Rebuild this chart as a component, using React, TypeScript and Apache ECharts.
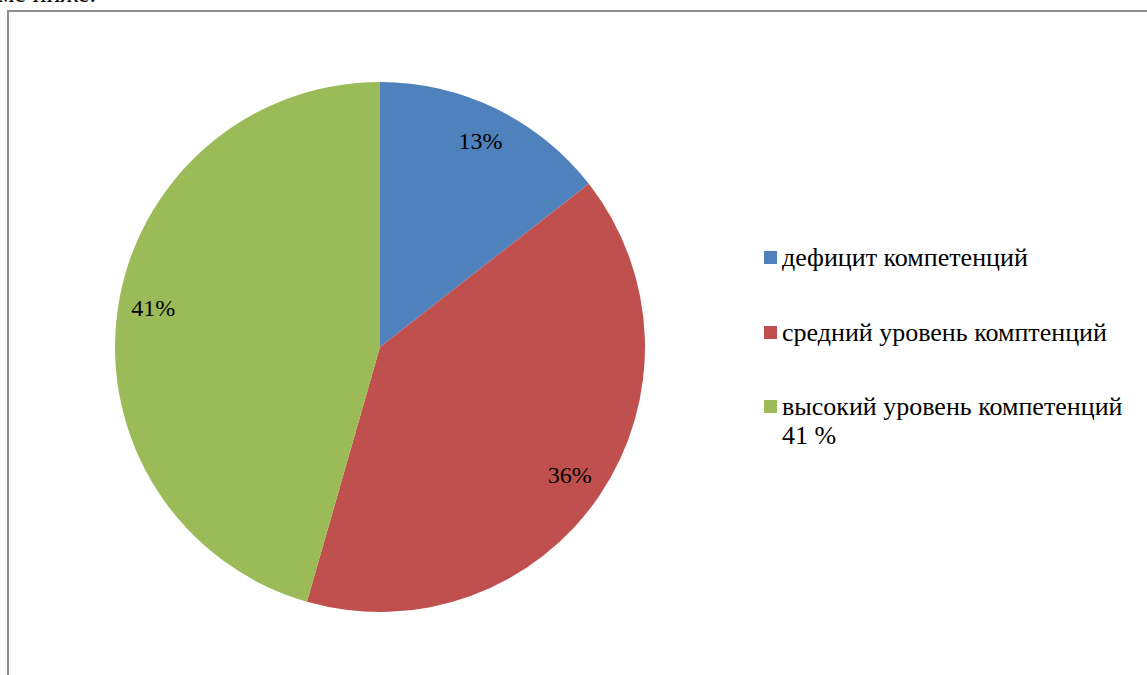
import React, { useEffect, useRef } from "react";
import * as echarts from "echarts";

const categories = ["дефицит компетенций", "средний уровень комптенций", "высокий уровень компетенций\n41 %"];
const values = [13, 36, 41];
const colors = ["#4F81BD", "#C0504D", "#9BBB59"];

const FONT = "Liberation Serif";

export default function App() {
  const ref = useRef<HTMLDivElement>(null);
  useEffect(() => {
    if (!ref.current) return;
    const chart = echarts.init(ref.current, undefined, { renderer: "svg" });
    const data = categories.map((name, i) => ({ name, value: values[i], itemStyle: { color: colors[i] } }));
    const legendText = { fontFamily: FONT, fontSize: 26, color: "#000", lineHeight: 29 };
    chart.setOption({
      animation: false,
      backgroundColor: "#ffffff",
      legend: [
        {
          orient: "vertical",
          left: 759,
          top: 238,
          itemWidth: 13,
          itemHeight: 13,
          itemGap: 46,
          icon: "rect",
          selectedMode: false,
          textStyle: legendText,
          data: [categories[0], categories[1]],
        },
        {
          orient: "vertical",
          left: 759,
          top: 358,
          itemWidth: 13,
          itemHeight: 13,
          icon: "rect",
          selectedMode: false,
          textStyle: legendText,
          formatter: (name: string) => "\n" + name,
          data: [categories[2]],
        },
      ],
      graphic: [
        {
          type: "text",
          x: -2,
          y: -20,
          style: { text: "ме ниже.", fontSize: 26, fontFamily: FONT, fill: "#000" },
        },
        {
          type: "polyline",
          shape: { points: [[8, 675], [8, 11], [1147, 11]] },
          style: { stroke: "#8c8c8c", lineWidth: 2, fill: "none" },
        },
      ],
      series: [
        {
          type: "pie",
          center: [380, 347],
          radius: [0, 265],
          startAngle: 90,
          clockwise: true,
          silent: true,
          label: { show: false },
          labelLine: { show: false },
          itemStyle: { borderWidth: 0 },
          data,
        },
        {
          type: "pie",
          center: [380, 347],
          radius: [187, 265],
          startAngle: 90,
          clockwise: true,
          silent: true,
          itemStyle: { color: "transparent", borderWidth: 0 },
          label: {
            show: true,
            position: "inside",
            formatter: "{c}%",
            fontFamily: FONT,
            fontSize: 24,
            color: "#000",
          },
          labelLayout: (p: any) => (p.dataIndex === 2 ? { dy: -7 } : {}),
          labelLine: { show: false },
          data: categories.map((name, i) => ({ name, value: values[i] })),
        },
      ],
    });
    return () => chart.dispose();
  }, []);
  return (
    <div
      ref={ref}
      style={{ position: "absolute", left: 0, top: 0, width: 1147, height: 675 }}
    />
  );
}
